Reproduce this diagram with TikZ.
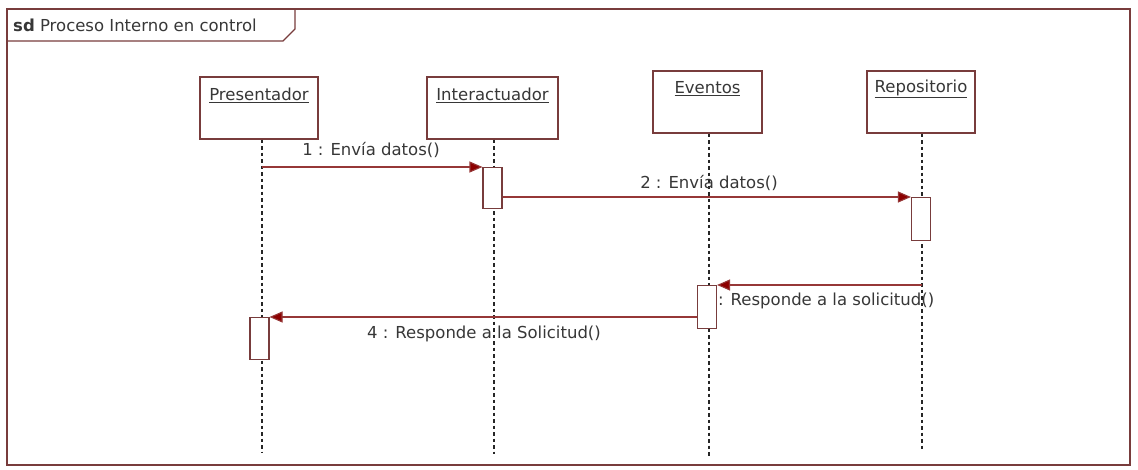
\documentclass[tikz,border=0pt]{standalone}
\usepackage{fontspec}
\setmainfont{DejaVu Sans}
\usetikzlibrary{arrows.meta}
\definecolor{frm}{RGB}{120,60,60}
\definecolor{msgc}{RGB}{150,55,55}
\definecolor{tipc}{RGB}{140,0,0}
\definecolor{txt}{RGB}{55,55,55}
\tikzset{
  head/.style={draw=frm, line width=1.1pt, fill=white, minimum width=#1, minimum height=62pt, inner sep=0pt},
  headtxt/.style={text=txt, font=\fontsize{16.5}{20}\selectfont, inner sep=0pt},
  act/.style={draw=frm, line width=1.1pt, fill=white, minimum width=19pt, minimum height=#1, inner sep=0pt},
  life/.style={line width=1.3pt, draw=black!85, dash pattern=on 3.5pt off 3pt},
  msg/.style={draw=msgc, line width=1.1pt, -{Triangle[length=13pt,width=11pt,fill=tipc]}},
  lbl/.style={text=txt, font=\fontsize{16.5}{20}\selectfont, inner sep=0pt}
}
\begin{document}
\begin{tikzpicture}[x=1pt,y=-1pt]
\useasboundingbox (0,0) rectangle (1138,470);
% frame
\draw[frm, line width=1.2pt] (7,9) rectangle (1130,465);
\draw[frm, line width=1.2pt] (7,41) -- (283,41) -- (295,29) -- (295,9);
\node[anchor=west, text=txt, inner sep=0pt, font=\fontsize{16.5}{20}\selectfont] (title) at (13,25) {\textbf{sd} Proceso Interno en control};
% heads
\node[head=118pt] (P) at (259,108) {};
\node[head=131pt] (I) at (492.5,108) {};
\node[head=109pt] (E) at (707.5,102) {};
\node[head=108pt] (R) at (921,102) {};
\node[headtxt] (Pt) at (259,95) {\underline{Presentador}};
\node[headtxt] (It) at (492.5,95) {\underline{Interactuador}};
\node[headtxt] (Et) at (707.5,89) {\underline{Eventos}};
\node[headtxt] (Rt) at (921,89) {\underline{Repositorio}};
% lifeline ends
\coordinate (Pe) at (262,453);
\coordinate (Ie) at (494,454);
\coordinate (Ee) at (709,458);
\coordinate (Re) at (922,449);
\draw[life] (P.south -| Pe) -- (Pe);
\draw[life] (I.south -| Ie) -- (Ie);
\draw[life] (E.south -| Ee) -- (Ee);
\draw[life] (R.south -| Re) -- (Re);
% activations
\node[act=41pt, anchor=north] (a1) at (492.5,167) {};
\node[act=43pt, anchor=north] (a2) at (921,197) {};
\node[act=43pt, anchor=north] (a3) at (707,285) {};
\node[act=42pt, anchor=north] (a4) at (259.5,317) {};
% messages
\draw[msg] (Pe |- a1.north) -- (a1.north west);
\node[lbl] (l1) at (371,150) {1 : Envía datos()};
\draw[msg] (a1.east |- a2.north) -- (a2.north west);
\node[lbl] (l2) at (709,183) {2 : Envía datos()};
\draw[msg] (Re |- a3.north) -- (a3.north east);
\node[lbl, anchor=west] (l3) at (718,301) {: Responde a la solicitud()};
\draw[msg] (a3.west |- a4.north) -- (a4.north east);
\node[lbl] (l4) at (484,334) {4 : Responde a la Solicitud()};
\end{tikzpicture}
\end{document}
